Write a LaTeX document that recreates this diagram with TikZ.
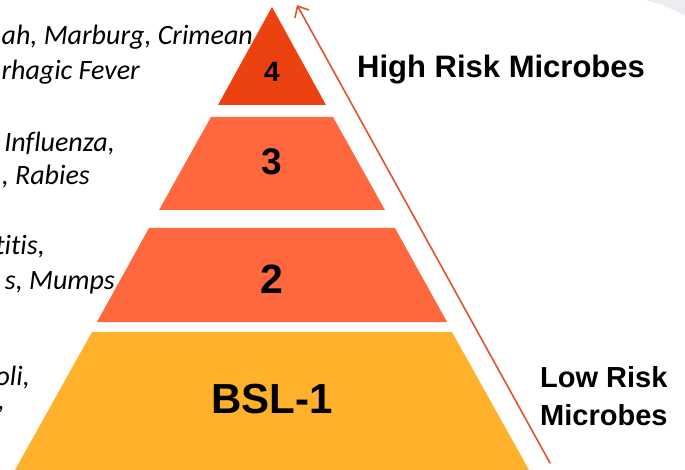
\documentclass[tikz,border=0pt]{standalone}
\usepackage{fontspec}
\setmainfont{Liberation Sans}
\newfontfamily\notefont[Ligatures={NoCommon}]{Carlito}
\usepackage{tikz}
\usetikzlibrary{calc,arrows.meta}
\usepackage{tkz-euclide}

\definecolor{riskfour}{RGB}{236,66,16}
\definecolor{riskmid}{RGB}{255,104,62}
\definecolor{riskone}{RGB}{255,177,44}
\definecolor{riskarrow}{RGB}{226,82,44}
\definecolor{cornergray}{RGB}{236,236,241}

\tikzset{
  levelnum/.style={inner sep=0pt,anchor=base,font=\bfseries},
  risklabel/.style={inner sep=0pt,anchor=base west,font=\bfseries\fontsize{29}{38}\selectfont,align=left},
  agentnote/.style={inner sep=0pt,anchor=base east,font=\notefont\itshape\fontsize{28}{30}\selectfont},
}

\begin{document}
\begin{tikzpicture}[x=1pt,y=-1pt,>={Straight Barb[length=9pt,width=16pt]}]
    \useasboundingbox (0,0) rectangle (685,470);
    \fill[cornergray] (645,0) .. controls (664,5) .. (685,16) -- (685,0) -- cycle;
    % pyramid
    \tkzDefPoint(272,7){A}
    \tkzDefPoint(218,105){Fl}
    \tkzDefPoint(326,105){Fr}
    \tkzDefPoint(211,117){Ta}
    \tkzDefPoint(333,117){Tb}
    \tkzDefPoint(385,210){Tc}
    \tkzDefPoint(159,210){Td}
    \tkzDefPoint(149,228){Sa}
    \tkzDefPoint(395,228){Sb}
    \tkzDefPoint(447,322){Sc}
    \tkzDefPoint(97,322){Sd}
    \tkzDefPoint(92,332){Oa}
    \tkzDefPoint(452,332){Ob}
    \tkzDefPoint(529,470){Oc}
    \tkzDefPoint(15,470){Od}
    \tkzFillPolygon[fill=riskfour](A,Fl,Fr)
    \tkzFillPolygon[fill=riskmid](Ta,Tb,Tc,Td)
    \tkzFillPolygon[fill=riskmid](Sa,Sb,Sc,Sd)
    \tkzFillPolygon[fill=riskone](Oa,Ob,Oc,Od)
    \node [levelnum,font=\bfseries\fontsize{28}{30}\selectfont] (lvfour) at (272,82) {4};
    \node [levelnum,font=\bfseries\fontsize{37}{40}\selectfont] (lvthree) at (272,175) {3};
    \node [levelnum,font=\bfseries\fontsize{41}{44}\selectfont] (lvtwo) at (272,293) {2};
    \node [levelnum,font=\bfseries\fontsize{42}{46}\selectfont] (lvone) at (272,413) {BSL-1};
    % risk arrow
    \tkzDefPoint(550,463){S}
    \tkzDefPoint(297,5){T}
    \tkzDrawSegments[color=riskarrow,line width=1.6pt,->](S,T)
    \node [risklabel,font=\bfseries\fontsize{31}{36}\selectfont] (high) at (357,78) {High Risk Microbes};
    \node [risklabel] (lowa) at (540,387) {Low Risk};
    \node [risklabel] (lowb) at (540,425) {Microbes};
    % agents, cut at the left edge
    \node [agentnote] (fourA) at (253,45) {ah, Marburg, Crimean};
    \node [agentnote] (fourB) at (140,80) {rhagic Fever};
    \node [agentnote] (threeA) at (115,152) {Influenza,};
    \node [agentnote] (threeB) at (90,185) {, Rabies};
    \node [agentnote] (twoA) at (45,255) {titis,};
    \node [agentnote] (twoB) at (115,290) {s, Mumps};
    \node [agentnote] (oneA) at (30,385) {oli,};
    \node [agentnote] (oneB) at (5,409) {,};
\end{tikzpicture}
\end{document}
